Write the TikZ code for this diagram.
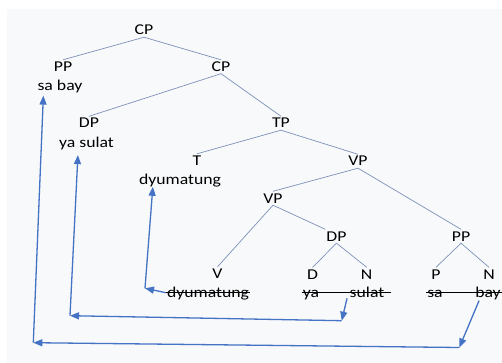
\documentclass[tikz,border=0pt]{standalone}
\usepackage{fontspec}
\setmainfont{Carlito}[FakeStretch=1.18]
\usetikzlibrary{arrows.meta}
\definecolor{branchc}{RGB}{125,145,185}
\definecolor{movec}{RGB}{68,114,196}
\definecolor{paper}{RGB}{248,249,250}
\begin{document}
\begin{tikzpicture}[x=1pt,y=-1pt,
  lbl/.style={anchor=base, inner xsep=1pt, inner ysep=2pt, text height=9.5pt, text depth=0pt,
              font=\fontsize{15}{18}\selectfont},
  word/.style={anchor=base, inner sep=1pt, font=\fontsize{15}{18}\selectfont},
  branch/.style={draw=branchc, line width=0.7pt},
  move/.style={draw=movec, line width=1.3pt, -{Triangle[length=9pt,width=7pt]}},
  strike/.style={draw=black, line width=0.9pt}]
% canvas
\useasboundingbox (0,0) rectangle (502,363);
\fill[white] (0,0) rectangle (502,363);
\fill[paper] (7,9) rectangle (502,363);

% category labels and words
\node[lbl] (CP1) at (144,35) {CP};
\node[lbl] (PP1) at (63,71.5) {PP};
\node[word] (sabay) at (60,91) {sa bay};
\node[lbl] (CP2) at (221,71.5) {CP};
\node[lbl] (DP1) at (89,128) {DP};
\node[word] (yasulat) at (86.5,147.5) {ya sulat};
\node[lbl] (TP) at (281,128) {TP};
\node[lbl] (T) at (197,165.5) {T};
\node[word] (dyuT) at (180,185) {dyumatung};
\node[lbl] (VP1) at (358,166) {VP};
\node[lbl] (VP2) at (273,203) {VP};
\node[lbl] (DP2) at (336.5,241) {DP};
\node[lbl] (PP2) at (461,241) {PP};
\node[lbl] (V) at (217.5,278.5) {V};
\node[lbl] (D) at (312.5,279) {D};
\node[lbl] (N1) at (366.7,279) {N};
\node[lbl] (P) at (436,279) {P};
\node[lbl] (N2) at (489,279) {N};
\node[word] (dyuV) at (208,297) {dyumatung};
\node[word] (ya) at (311,297) {ya};
\node[word] (sulat) at (367,297) {sulat};
\node[word] (sa) at (435,297) {sa};
\node[word] (bay) at (488,297) {bay};

% tree branches
\draw[branch] (CP1.south) -- (PP1.north);
\draw[branch] (CP1.south) -- (CP2.north);
\draw[branch] (CP2.south) -- (DP1.north);
\draw[branch] (CP2.south) -- (TP.north);
\draw[branch] (TP.south) -- (T.north);
\draw[branch] (TP.south) -- (VP1.north);
\draw[branch] (VP1.south) -- (VP2.north);
\draw[branch] (VP1.south) -- (PP2.north);
\draw[branch] (VP2.south) -- (V.north);
\draw[branch] (VP2.south) -- (DP2.north west);
\draw[branch] (DP2.south) -- (D.north);
\draw[branch] (DP2.south) -- (N1.north);
\draw[branch] (PP2.south) -- (P.north);
\draw[branch] (PP2.south) -- (N2.north);

% struck-out lower copies
\draw[strike] ([yshift=4.3pt]dyuV.base west) -- ([yshift=4.3pt]dyuV.base east);
\draw[strike] ([yshift=4.3pt]ya.base west) -- ([xshift=6pt,yshift=4.3pt]sulat.base east);
\draw[strike] ([yshift=4.3pt]sa.base west) -- ([xshift=1pt,yshift=4.3pt]bay.base east);

% movement arrows
\coordinate (k1) at (145,288.3);
\coordinate (k2a) at (341.7,320.7);
\coordinate (k2b) at (70,315.7);
\coordinate (k3a) at (459.3,347.5);
\coordinate (k3b) at (33.3,342.7);

\draw[move] ([yshift=4.3pt]dyuV.base west) -- (k1);
\draw[move] (k1) -- ([xshift=15pt,yshift=2pt]dyuT.south west);

\draw[move] ([xshift=-1.5pt]sulat.south west) -- (k2a);
\draw[move] (k2a) -- (k2b);
\draw[move] (k2b) -- ([xshift=20pt,yshift=-4pt]yasulat.south west);

\draw[move] ([xshift=5pt]bay.south west) -- (k3a);
\draw[move] (k3a) -- (k3b);
\draw[move] (k3b) -- ([xshift=7pt,yshift=-1pt]sabay.south west);
\end{tikzpicture}
\end{document}
